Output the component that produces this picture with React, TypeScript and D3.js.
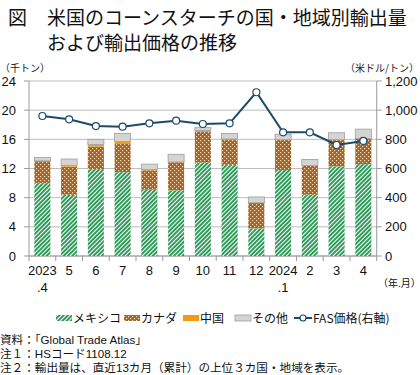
import React from "react";
import * as d3 from "d3";

const categories = ["2023.4", "5", "6", "7", "8", "9", "10", "11", "12", "2024.1", "2", "3", "4"];
const xLabels1 = ["2023", "5", "6", "7", "8", "9", "10", "11", "12", "2024", "2", "3", "4"];
const xLabels2 = [".4", "", "", "", "", "", "", "", "", ".1", "", "", ""];
const mexico = [10.0, 8.4, 11.9, 11.5, 9.1, 9.0, 12.8, 12.5, 3.8, 11.8, 8.4, 12.3, 12.6];
const canada = [3.0, 3.85, 3.1, 3.95, 2.65, 3.85, 4.2, 3.4, 3.5, 4.1, 4.0, 3.6, 3.5];
const china = [0.05, 0.15, 0.3, 0.25, 0.1, 0.05, 0.2, 0.15, 0.0, 0.05, 0.0, 0.05, 0.0];
const other = [0.45, 0.9, 0.7, 1.1, 0.75, 1.05, 0.4, 0.75, 0.8, 0.75, 0.85, 0.95, 1.3];
const fasPrice = [960, 937, 891, 887, 910, 928, 905, 910, 1123, 848, 848, 761, 789];
const leftTicks = [0, 4, 8, 12, 16, 20, 24];
const rightTicks = [0, 200, 400, 600, 800, 1000, 1200];
const seriesNames = ["メキシコ", "カナダ", "中国", "その他"];

const FONT = "'Liberation Sans', 'Noto Sans CJK JP', sans-serif";
const JFONT = "'Noto Sans CJK JP', 'Liberation Sans', sans-serif";
const LINE_COLOR = "#1b4a6b";

export default function App() {
  const left = 29, right = 376.7, top = 81, bottom = 256;
  const x = d3.scaleBand<string>().domain(categories).range([left, right]).paddingInner(0.4).paddingOuter(0.2);
  const step = (right - left) / categories.length;
  const yL = d3.scaleLinear().domain([0, 24]).range([bottom, top]);
  const yR = d3.scaleLinear().domain([0, 1200]).range([bottom, top]);

  const rows = categories.map((c, i) => ({ c, mexico: mexico[i], canada: canada[i], china: china[i], other: other[i] }));
  const keys = ["mexico", "canada", "china", "other"];
  const stacked = d3.stack<any>().keys(keys)(rows);
  const fills: Record<string, string> = {
    mexico: "url(#pMex)",
    canada: "url(#pCan)",
    china: "#f39a12",
    other: "#d4d4d4",
  };
  const line = d3.line<number>()
    .x((_, i) => (x(categories[i]) as number) + x.bandwidth() / 2)
    .y((d) => yR(d));

  const legendItems = [
    { key: "mexico", x: 56, label: seriesNames[0] },
    { key: "canada", x: 124, label: seriesNames[1] },
    { key: "china", x: 183, label: seriesNames[2] },
    { key: "other", x: 235, label: seriesNames[3] },
  ];

  return (
    <svg width={420} height={375} style={{ position: "absolute", left: 0, top: 0, background: "#fff" }}>
      <defs>
        <pattern id="pMex" width={3} height={3} patternUnits="userSpaceOnUse" patternTransform="rotate(45)">
          <rect width={3} height={3} fill="#ffffff" />
          <rect width={2} height={3} fill="#2f9a5a" />
        </pattern>
        <pattern id="pCan" width={4} height={4} patternUnits="userSpaceOnUse">
          <rect width={4} height={4} fill="#a4612b" />
          <rect x={0} y={0} width={1.2} height={1.2} fill="#f1dcb8" />
          <rect x={2} y={2} width={1.2} height={1.2} fill="#f1dcb8" />
        </pattern>
      </defs>

      {/* title */}
      <g fontFamily={JFONT} fontSize={19} fill="#111">
        <text x={8} y={25}>図</text>
        <text x={47} y={25}>米国のコーンスターチの国・地域別輸出量</text>
        <text x={47} y={50}>および輸出価格の推移</text>
      </g>

      {/* unit labels */}
      <text x={0} y={72} fontFamily={JFONT} fontSize={10} fill="#222">（千トン）</text>
      <text x={419} y={72} fontFamily={JFONT} fontSize={10} fill="#222" textAnchor="end">（米ドル/トン）</text>

      {/* grid */}
      {leftTicks.map((t) => (
        <line key={"g" + t} x1={left} x2={right} y1={yL(t)} y2={yL(t)} stroke="#bdbdbd" strokeWidth={1} />
      ))}
      <line x1={left} x2={left} y1={top} y2={bottom} stroke="#9a9a9a" />
      <line x1={right} x2={right} y1={top} y2={bottom} stroke="#9a9a9a" />
      <line x1={left} x2={right} y1={bottom} y2={bottom} stroke="#9a9a9a" />

      {/* left ticks */}
      {leftTicks.map((t) => (
        <g key={"l" + t}>
          <line x1={left - 5} x2={left} y1={yL(t)} y2={yL(t)} stroke="#9a9a9a" />
          <text x={16} y={yL(t) + 4.5} textAnchor="end" fontFamily={FONT} fontSize={13} fill="#111">{t}</text>
        </g>
      ))}
      {/* right ticks */}
      {rightTicks.map((t) => (
        <g key={"r" + t}>
          <line x1={right} x2={right + 5} y1={yR(t)} y2={yR(t)} stroke="#9a9a9a" />
          <text x={385} y={yR(t) + 4.5} fontFamily={FONT} fontSize={13} fill="#111">{d3.format(",")(t)}</text>
        </g>
      ))}
      {/* x ticks */}
      {d3.range(categories.length + 1).map((i) => (
        <line key={"xt" + i} x1={left + i * step} x2={left + i * step} y1={bottom} y2={bottom + 5} stroke="#9a9a9a" />
      ))}
      {categories.map((c, i) => (
        <g key={"xl" + c} fontFamily={FONT} fontSize={13} fill="#111" textAnchor="middle">
          <text x={(x(c) as number) + x.bandwidth() / 2} y={275}>{xLabels1[i]}</text>
          {xLabels2[i] && <text x={(x(c) as number) + x.bandwidth() / 2} y={292}>{xLabels2[i]}</text>}
        </g>
      ))}
      <text x={378} y={287} fontFamily={JFONT} fontSize={10} fill="#111">（年.月）</text>

      {/* bars */}
      {stacked.map((s) => (
        <g key={s.key}>
          {s.map((d, i) => {
            const h = yL(d[0]) - yL(d[1]);
            if (h <= 0) return null;
            return (
              <rect key={i} x={x(categories[i])} width={x.bandwidth()} y={yL(d[1])} height={h}
                fill={fills[s.key]} stroke={s.key === "other" ? "#9e9e9e" : "none"} strokeWidth={0.8} />
            );
          })}
        </g>
      ))}

      {/* line */}
      <path d={line(fasPrice) || ""} fill="none" stroke={LINE_COLOR} strokeWidth={2} />
      {fasPrice.map((v, i) => (
        <circle key={"pt" + i} cx={(x(categories[i]) as number) + x.bandwidth() / 2} cy={yR(v)} r={3.5}
          fill="#fff" stroke={LINE_COLOR} strokeWidth={1.2} />
      ))}

      {/* legend */}
      <g fontFamily={JFONT} fontSize={12} fill="#111">
        {legendItems.map((it) => (
          <g key={it.key}>
            <rect x={it.x} y={315} width={16} height={6} fill={fills[it.key]}
              stroke={it.key === "other" ? "#9e9e9e" : "none"} strokeWidth={0.8} />
            <text x={it.x + 17} y={323}>{it.label}</text>
          </g>
        ))}
        <line x1={294} x2={312} y1={318} y2={318} stroke={LINE_COLOR} strokeWidth={2} />
        <circle cx={303} cy={318} r={3} fill="#fff" stroke={LINE_COLOR} strokeWidth={1.2} />
        <text x={313} y={323}>FAS価格(右軸)</text>
      </g>

      {/* notes */}
      <g fontFamily={FONT} fontSize={11.6} fill="#111">
        <text x={0} y={344}>資料：「Global Trade Atlas」</text>
        <text x={0} y={358}>注１：HSコード1108.12</text>
        <text x={0} y={371.5}>注２：輸出量は、直近13カ月（累計）の上位３カ国・地域を表示。</text>
      </g>
    </svg>
  );
}
